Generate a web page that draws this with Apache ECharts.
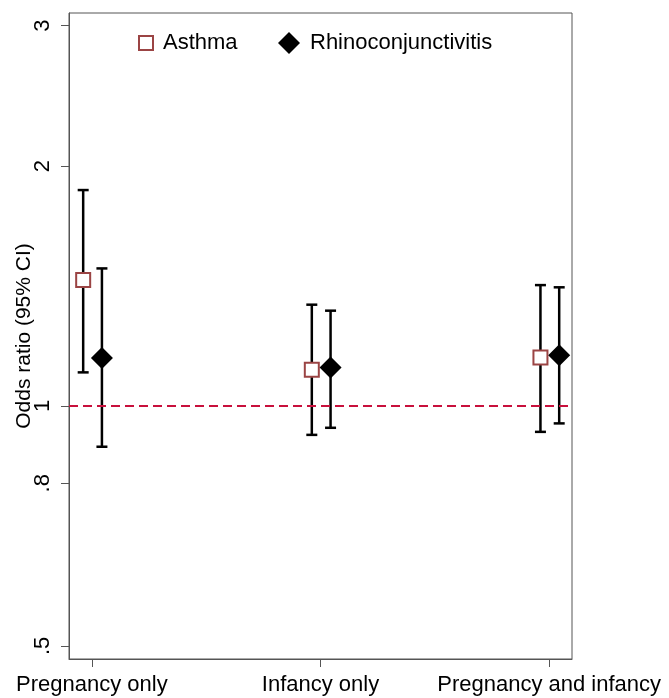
<!DOCTYPE html>
<html><head><meta charset="utf-8">
<script src="https://cdn.jsdelivr.net/npm/echarts@6/dist/echarts.min.js"></script>
<style>html,body{margin:0;padding:0;background:#fff}#c{width:669px;height:698px}</style>
</head><body><div id="c"></div>
<script>
const categories = ['Pregnancy only', 'Infancy only', 'Pregnancy and infancy'];
const asthmaOR = [1.439, 1.110, 1.150];
const asthmaLo = [1.102, 0.920, 0.928];
const asthmaHi = [1.866, 1.340, 1.418];
const rhinoOR = [1.149, 1.118, 1.158];
const rhinoLo = [0.889, 0.939, 0.951];
const rhinoHi = [1.488, 1.317, 1.409];
const yTicks = [0.5, 0.8, 1, 2, 3];
const yTickLabels = ['.5', '.8', '1', '2', '3'];
const catPos = [1, 2, 3];

const F = "'Liberation Sans', Arial, sans-serif";
const offA = -0.038, offR = 0.044;
const axisCol = '#555';

function pts(vals, off) { return vals.map((v, i) => [catPos[i] + off, v]); }
function bars(lo, hi, off) { return lo.map((v, i) => [catPos[i] + off, v, hi[i]]); }

function errRender(params, api) {
  const x = api.value(0);
  const lo = api.coord([x, api.value(1)]);
  const hi = api.coord([x, api.value(2)]);
  const w = 5.5;
  const style = { stroke: '#000', lineWidth: 2.5, fill: null };
  return { type: 'group', children: [
    { type: 'line', shape: { x1: lo[0], y1: lo[1], x2: hi[0], y2: hi[1] }, style },
    { type: 'line', shape: { x1: lo[0] - w, y1: lo[1], x2: lo[0] + w, y2: lo[1] }, style },
    { type: 'line', shape: { x1: hi[0] - w, y1: hi[1], x2: hi[0] + w, y2: hi[1] }, style }
  ]};
}

const chart = echarts.init(document.getElementById('c'), null, { renderer: 'canvas' });
chart.setOption({
  animation: false,
  backgroundColor: '#fff',
  grid: { left: 69, right: 97, top: 13, bottom: 39, show: true, borderColor: axisCol, borderWidth: 1,
    backgroundColor: 'transparent', containLabel: false, outerBoundsMode: 'none' },
  legend: [
    { data: ['Asthma'], left: 138, top: 32, padding: 0, itemWidth: 14, itemHeight: 14,
      textStyle: { fontSize: 22, fontFamily: F, color: '#000', padding: [0, 0, 0, 5] } },
    { data: ['Rhinoconjunctivitis'], left: 278, top: 32, padding: 0, itemWidth: 22, itemHeight: 22,
      textStyle: { fontSize: 22, fontFamily: F, color: '#000', padding: [0, 0, 0, 5] } }
  ],
  xAxis: {
    type: 'value', min: 0.9, max: 3.1,
    axisLine: { show: true, lineStyle: { color: axisCol, width: 1 } },
    axisTick: { show: true, length: 8, customValues: catPos, lineStyle: { color: axisCol, width: 1 } },
    axisLabel: { customValues: catPos, margin: 15, fontSize: 22, fontFamily: F, color: '#000',
      formatter: v => categories[catPos.indexOf(Math.round(v))] || '' },
    splitLine: { show: false }
  },
  yAxis: {
    type: 'log', min: 0.4815, max: 3.112,
    name: 'Odds ratio (95% CI)', nameLocation: 'middle', nameGap: 34, nameMoveOverlap: false,
    nameTextStyle: { fontSize: 21, fontFamily: F, color: '#000' },
    axisLine: { show: true, lineStyle: { color: axisCol, width: 1 } },
    axisTick: { show: true, length: 8, customValues: yTicks, lineStyle: { color: axisCol, width: 1 } },
    axisLabel: { customValues: yTicks, rotate: 90, margin: 15, fontSize: 22, fontFamily: F, color: '#000',
      formatter: v => { const i = yTicks.findIndex(t => Math.abs(t - v) < 1e-6); return i >= 0 ? yTickLabels[i] : ''; } },
    splitLine: { show: false }
  },
  series: [
    { type: 'custom', name: 'refline', data: [], z: 1,
      renderItem: () => null,
      markLine: { silent: true, symbol: 'none', label: { show: false },
        lineStyle: { color: '#c8103c', width: 2, type: [9, 5] },
        data: [{ yAxis: 1 }] } },
    { type: 'custom', name: 'Asthma CI', data: bars(asthmaLo, asthmaHi, offA), renderItem: errRender, z: 3, encode: { x: 0, y: [1, 2] } },
    { type: 'custom', name: 'Rhino CI', data: bars(rhinoLo, rhinoHi, offR), renderItem: errRender, z: 3, encode: { x: 0, y: [1, 2] } },
    { type: 'scatter', name: 'Asthma', data: pts(asthmaOR, offA), symbol: 'rect', symbolSize: 14, z: 5,
      itemStyle: { color: '#fff', borderColor: '#9b4444', borderWidth: 2, opacity: 1 } },
    { type: 'scatter', name: 'Rhinoconjunctivitis', data: pts(rhinoOR, offR), symbol: 'diamond', symbolSize: 22, z: 5,
      itemStyle: { color: '#000', opacity: 1 } }
  ]
});
</script></body></html>
